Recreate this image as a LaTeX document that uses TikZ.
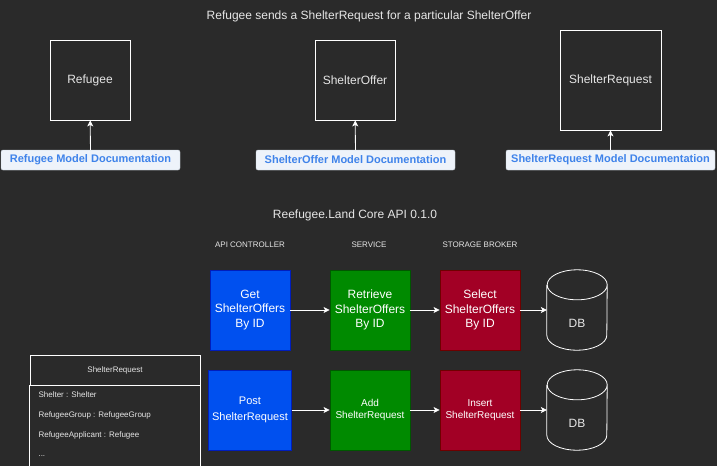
\documentclass[tikz,border=0pt]{standalone}
\usepackage{fontspec}
\setmainfont{Liberation Sans}
\usetikzlibrary{arrows.meta}
\definecolor{bg}{HTML}{2A2A2A}
\definecolor{fg}{HTML}{E6E6E6}
\definecolor{linkblue}{HTML}{3F83EA}
\definecolor{docfill}{HTML}{EEF3FA}
\definecolor{docline}{HTML}{C5CCD6}
\definecolor{ctrlfill}{HTML}{0050EF}
\definecolor{ctrlline}{HTML}{001DBC}
\definecolor{svcfill}{HTML}{008A00}
\definecolor{svcline}{HTML}{005700}
\definecolor{brkfill}{HTML}{A20025}
\definecolor{brkline}{HTML}{6F0000}

\begin{document}
\begin{tikzpicture}[x=1pt, y=-1pt,
    model/.style={draw=white, line width=0.8pt, text=fg, minimum width=80pt, minimum height=80pt,
        font=\fontsize{12}{14}\selectfont},
    doc/.style={draw=docline, fill=docfill, rounded corners=2pt, text=linkblue, minimum height=20pt,
        inner sep=0pt, font=\bfseries\fontsize{11}{13}\selectfont},
    layer/.style={minimum width=80pt, minimum height=80pt, text=white, align=center, line width=0.8pt},
    ctrl/.style={layer, fill=ctrlfill, draw=ctrlline},
    svc/.style={layer, fill=svcfill, draw=svcline},
    brk/.style={layer, fill=brkfill, draw=brkline},
    big/.style={font=\fontsize{12}{14.5}\selectfont},
    small/.style={font=\fontsize{10}{12.5}\selectfont},
    db/.style={minimum width=60pt, minimum height=80pt, text=fg, inner sep=0pt},
    head/.style={text=fg, font=\fontsize{8}{10}\selectfont},
    item/.style={text=fg, anchor=west, font=\fontsize{8}{10}\selectfont},
    conn/.style={draw=white, line width=0.8pt, -{Stealth[length=6pt, width=6pt, inset=1.5pt]}}]
    \fill[bg] (0,0) rectangle (717,466);
    \useasboundingbox (0,0) rectangle (717,466);

    \node[text=fg, font=\fontsize{12}{14}\selectfont] (title) at (369,16)
        {Refugee sends a ShelterRequest for a particular ShelterOffer};

    % models
    \node[model] (refugee) at (90,80) {Refugee};
    \node[model] (offer) at (355,80) {ShelterOffer};
    \node[model, minimum width=101pt, minimum height=100pt] (request) at (610.5,80) {ShelterRequest};

    \node[doc, minimum width=179pt] (refugeedoc) at (90.5,160) {Refugee Model Documentation};
    \node[doc, minimum width=199pt] (offerdoc) at (355.5,160) {ShelterOffer Model Documentation};
    \node[doc, minimum width=209pt] (requestdoc) at (610.5,160) {ShelterRequest Model Documentation};

    \draw[conn] (refugeedoc) -- (refugee);
    \draw[conn] (offerdoc) -- (offer);
    \draw[conn] (requestdoc) -- (request);

    % core api
    \node[text=fg, font=\fontsize{12}{14}\selectfont] (api) at (355,215) {Reefugee.Land Core API 0.1.0};
    \node[head] (ctrlhead) at (250,245) {API CONTROLLER};
    \node[head] (svchead) at (369,245) {SERVICE};
    \node[head] (brkhead) at (480,245) {STORAGE BROKER};

    \node[ctrl, big] (getoffers) at (250,310) {Get\\ShelterOffers\\By ID};
    \node[svc, big] (retrieveoffers) at (370,310) {Retrieve\\ShelterOffers\\By ID};
    \node[brk, big] (selectoffers) at (480,310) {Select\\ShelterOffers\\By ID};
    \node[db] (dbone) at (577,310) {};
    \node[text=fg, big] (dbonetext) at (577,323) {DB};

    \node[ctrl, font=\fontsize{11}{15.5}\selectfont] (postrequest) at (250,410) {Post\\ShelterRequest};
    \node[svc, small] (addrequest) at (370,410) {Add\\ShelterRequest};
    \node[brk, small] (insertrequest) at (480,410) {Insert\\ShelterRequest};
    \node[db] (dbtwo) at (577,410) {};
    \node[text=fg, big] (dbtwotext) at (577,423) {DB};

    \foreach \d in {dbone,dbtwo}
        \draw[white, line width=0.8pt] ([yshift=-15pt]\d.north west) -- ([yshift=15pt]\d.south west)
            arc[start angle=180, end angle=360, x radius=30pt, y radius=15pt]
            -- ([yshift=-15pt]\d.north east)
            arc[start angle=0, end angle=180, x radius=30pt, y radius=15pt]
            arc[start angle=180, end angle=360, x radius=30pt, y radius=15pt];

    \draw[conn] (getoffers) -- (retrieveoffers);
    \draw[conn] (retrieveoffers) -- (selectoffers);
    \draw[conn] (selectoffers) -- (dbone);
    \draw[conn] (postrequest) -- (addrequest);
    \draw[conn] (addrequest) -- (insertrequest);
    \draw[conn] (insertrequest) -- (dbtwo);

    % class box
    \node[draw=white, line width=0.8pt, minimum width=170pt, minimum height=30pt, text=fg,
        font=\fontsize{8}{10}\selectfont] (srhead) at (115,370) {ShelterRequest};
    \draw[white, line width=0.8pt] (srhead.south west) -- ++(0,100) (srhead.south east) -- ++(0,100);
    \node[item] (shelter) at (35,395) {Shelter : Shelter};
    \node[item] (group) at (35,415) {RefugeeGroup : RefugeeGroup};
    \node[item] (applicant) at (35,435) {RefugeeApplicant : Refugee};
    \node[item] (more) at (35,456) {...};
\end{tikzpicture}
\end{document}
